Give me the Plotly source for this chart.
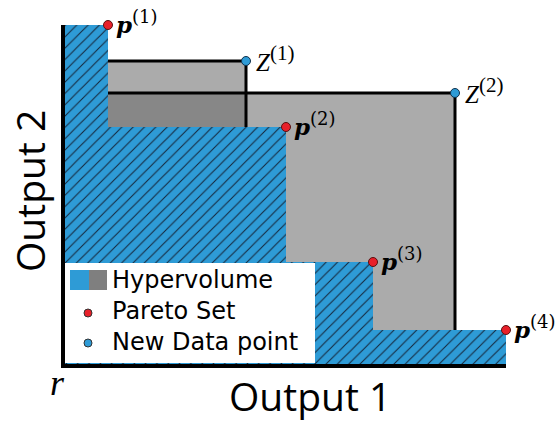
import plotly.graph_objects as go

# Pareto set (Output 1, Output 2) relative to reference point r = (0, 0)
pareto_x = [45, 223, 310, 443]
pareto_y = [341, 239, 104, 36]
pareto_labels = ["(1)", "(2)", "(3)", "(4)"]

# New candidate data points
new_x = [183, 392]
new_y = [305, 273]
new_labels = ["(1)", "(2)"]

legend_items = ["Hypervolume", "Pareto Set", "New Data point"]

BLUE = "#2E9BD6"
RED = "#E8202A"
LIGHT_GRAY = "#ABABAB"
DARK_GRAY = "#878787"

fig = go.Figure()


def poly(xs, ys, color, **kw):
    fig.add_trace(go.Scatter(x=xs, y=ys, fill="toself", fillcolor=color,
                             line=dict(width=0), mode="lines",
                             hoverinfo="skip", showlegend=False, **kw))


# --- region dominated by the Pareto set (staircase) ---
stair_x = [0, 0]
stair_y = [0, pareto_y[0]]
for i in range(len(pareto_x)):
    stair_x.append(pareto_x[i]); stair_y.append(pareto_y[i])
    nxt = pareto_y[i + 1] if i + 1 < len(pareto_y) else 0
    stair_x.append(pareto_x[i]); stair_y.append(nxt)
stair_x.append(0); stair_y.append(0)


def box_minus_stair(zx, zy):
    """Outline of the area improved by a new point z over the staircase."""
    xs = [pareto_x[0], zx]
    ys = [zy, zy]
    steps = [(px, py) for px, py in zip(pareto_x, pareto_y) if px <= zx]
    last_y = next((py for px, py in zip(pareto_x, pareto_y) if px > zx), 0)
    xs.append(zx); ys.append(last_y)
    for px, py in reversed(steps):
        xs += [px, px]
        ys += [ys[-1], py]
    xs.append(pareto_x[0]); ys.append(zy)
    return xs, ys


# gray improvement regions for Z(2) and Z(1)
for zx, zy in [(new_x[1], new_y[1]), (new_x[0], new_y[0])]:
    bx, by = box_minus_stair(zx, zy)
    poly(bx, by, LIGHT_GRAY)

# overlap of the two improvement regions
ox0, ox1 = pareto_x[0], min(new_x)
oy0, oy1 = pareto_y[1], min(new_y)
poly([ox0, ox1, ox1, ox0, ox0], [oy0, oy0, oy1, oy1, oy0], DARK_GRAY)

# hatched hypervolume
poly(stair_x, stair_y, BLUE,
     fillpattern=dict(shape="/", fgcolor="#15263a", bgcolor=BLUE,
                      size=8, solidity=0.13, fillmode="replace"))

# box outlines of the new points
for zx, zy in zip(new_x, new_y):
    bottom = next((py for px, py in zip(pareto_x, pareto_y) if px > zx), 0)
    fig.add_trace(go.Scatter(x=[pareto_x[0], zx, zx], y=[zy, zy, bottom],
                             mode="lines", line=dict(color="black", width=3),
                             hoverinfo="skip", showlegend=False))

# axes
fig.add_trace(go.Scatter(x=[0, 0, pareto_x[-1]], y=[pareto_y[0], 0, 0],
                         mode="lines", line=dict(color="black", width=4),
                         hoverinfo="skip", showlegend=False))

# legend box and hypervolume swatch
poly([2, 252, 252, 2, 2], [3, 3, 103, 103, 3], "white")
poly([7, 26, 26, 7, 7], [76, 76, 96, 96, 76], BLUE)
poly([26, 44, 44, 26, 26], [76, 76, 96, 96, 76], "#7f7f7f")

# points
fig.add_trace(go.Scatter(x=pareto_x, y=pareto_y, mode="markers",
                         marker=dict(color=RED, size=9, line=dict(color="#5a1010", width=1)),
                         hoverinfo="skip", showlegend=False))
fig.add_trace(go.Scatter(x=new_x, y=new_y, mode="markers",
                         marker=dict(color=BLUE, size=9, line=dict(color="#10304a", width=1)),
                         hoverinfo="skip", showlegend=False))
fig.add_trace(go.Scatter(x=[25, 25], y=[53, 23], mode="markers",
                         marker=dict(color=[RED, BLUE], size=8,
                                     line=dict(color="#333", width=1)),
                         hoverinfo="skip", showlegend=False))

sup = "<sup><span style='font-size:{}px'>{}</span></sup>"
for px, py, lab in zip(pareto_x, pareto_y, pareto_labels):
    fig.add_annotation(x=px, y=py, text="<b><i>p</i></b>" + sup.format(18, lab),
                       xanchor="left", yanchor="middle", xshift=6, yshift=3,
                       showarrow=False, font=dict(family="DejaVu Serif", size=23, color="black"))
for zx, zy, lab in zip(new_x, new_y, new_labels):
    fig.add_annotation(x=zx, y=zy, text="<i>Z</i>" + sup.format(21, lab),
                       xanchor="left", yanchor="middle", xshift=8, yshift=3,
                       showarrow=False, font=dict(family="Liberation Serif", size=25, color="black"))

for i, txt in enumerate(legend_items):
    fig.add_annotation(x=47, y=86 - 31 * i, text=txt, xanchor="left", yanchor="middle",
                       showarrow=False, font=dict(family="DejaVu Sans", size=24, color="black"))

fig.add_annotation(x=-6, y=-17, text="<i>r</i>", showarrow=False,
                   font=dict(family="Liberation Serif", size=36, color="black"))
fig.add_annotation(x=247, y=-29, text="Output 1", showarrow=False,
                   font=dict(family="Open Sans", size=39, color="black"))
fig.add_annotation(x=-34, y=175, text="Output 2", showarrow=False, textangle=-90,
                   font=dict(family="Open Sans", size=39, color="black"))

fig.update_xaxes(range=[-63, 497], visible=False, fixedrange=True)
fig.update_yaxes(range=[-55, 366], visible=False, fixedrange=True)
fig.update_layout(width=560, height=421, margin=dict(l=0, r=0, t=0, b=0),
                  plot_bgcolor="white", paper_bgcolor="white", showlegend=False)

fig.write_html("out.html")
